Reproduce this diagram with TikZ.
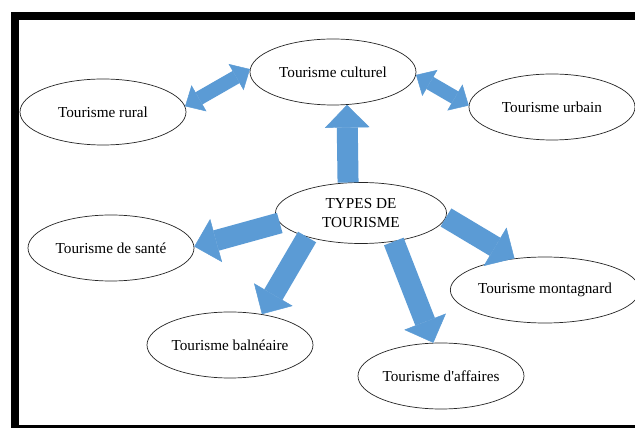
\documentclass[tikz,border=0pt]{standalone}
\usepackage{fontspec}
\setmainfont{Liberation Serif}
\usepackage{tikz}
\usetikzlibrary{shapes,arrows.meta,positioning,calc}
\definecolor{arrowblue}{HTML}{5B9BD5}

\begin{document}
\begin{tikzpicture}[
    x=0.03cm,
    y=-0.03cm,
    oval/.style={
        ellipse,
        draw=black!85,
        line width=0.6pt,
        fill=white,
        minimum width=4.98cm,
        minimum height=1.98cm,
        inner sep=0pt,
        font=\fontsize{13}{16}\selectfont
    },
    hub/.style={
        oval,
        minimum width=5.13cm,
        minimum height=1.83cm,
        align=center
    },
    oneway/.style={
        draw=arrowblue,
        line width=0.63cm,
        -{Triangle[length=0.68cm,width=1.34cm,line width=0.4pt]}
    },
    twoway/.style={
        draw=arrowblue,
        line width=0.42cm,
        {Triangle[length=0.48cm,width=0.9cm,line width=0.4pt]}-{Triangle[length=0.48cm,width=0.9cm,line width=0.4pt]}
    }
]
\useasboundingbox (0,0) rectangle (635,428);

% Frame
\fill [black] (11,12) rectangle (635,428);
\fill [white] (19,20) rectangle (635,425);

% Nodes
\node [oval] (culturel) at (333,72) {Tourisme culturel};
\node [oval] (rural) at (103,112) {Tourisme rural};
\node [oval] (urbain) at (552,107) {Tourisme urbain};
\node [hub] (types) at (361,213) {TYPES DE\\TOURISME};
\node [oval] (sante) at (111,248) {Tourisme de santé};
\node [oval] (balneaire) at (230,345) {Tourisme balnéaire};
\node [oval] (montagnard) at (545,290) {Tourisme montagnard};
\node [oval] (affaires) at (441,376) {Tourisme d\textquotesingle affaires};

% Edges
\path [twoway] (rural.4) -- (culturel.178);
\path [twoway] (culturel.-2) -- (urbain.179);
\path [oneway] (types.113) -- (culturel.-67);
\path [oneway] (types.187) -- (sante.1);
\path [oneway] (types.204) -- (balneaire.44);
\path [oneway] (types.-41) -- (affaires.103);
\path [oneway] (types.-3) -- (montagnard.134);

\end{tikzpicture}
\end{document}
